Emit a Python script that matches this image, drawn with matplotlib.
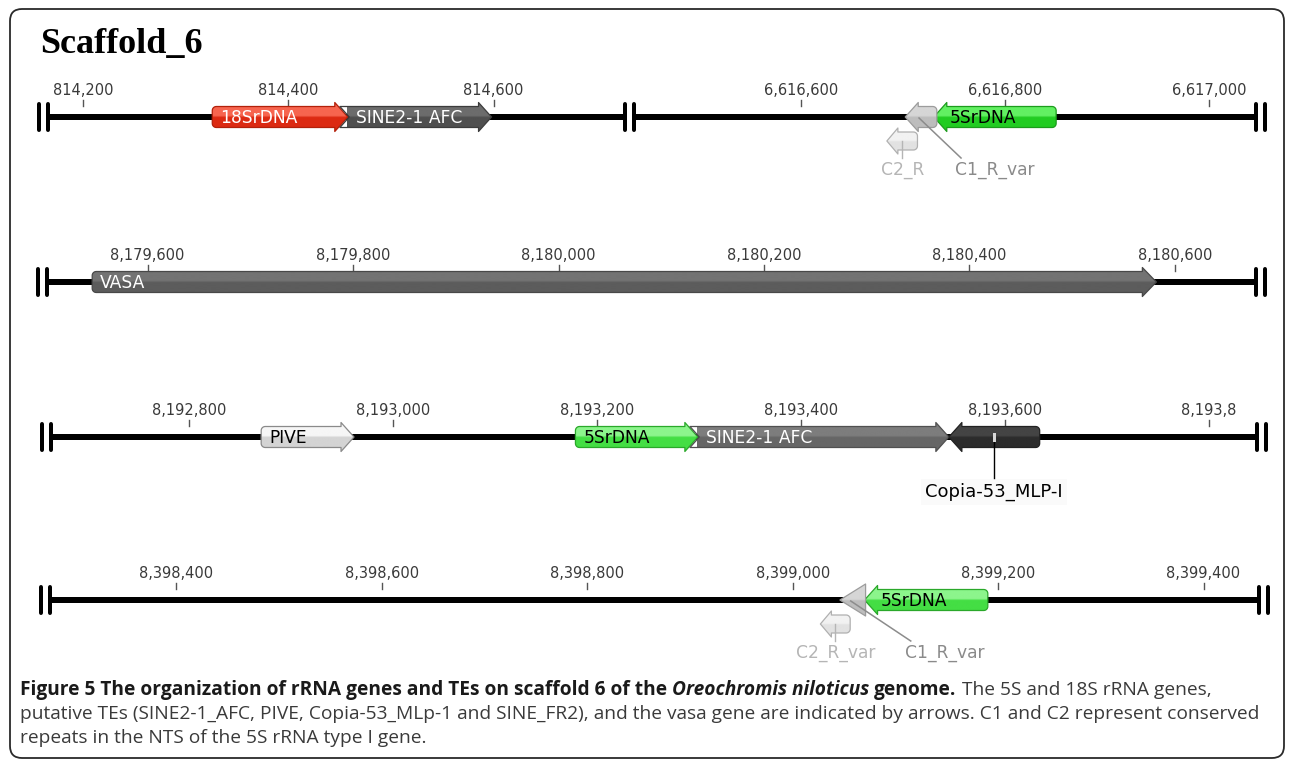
import matplotlib
matplotlib.use("Agg")
import numpy as np
import matplotlib.pyplot as plt
from matplotlib import font_manager
from matplotlib.patches import Polygon, FancyBboxPatch
from matplotlib.colors import LinearSegmentedColormap

# ---------------------------------------------------------------- data
# genomic window shown on each track (bp)
track_starts = [814166, 6616436, 8179502, 8192665, 8398277]
track_ends = [814728, 6617046, 8180679, 8193847, 8399454]

tick_values = [
    [814200, 814400, 814600],
    [6616600, 6616800, 6617000],
    [8179600, 8179800, 8180000, 8180200, 8180400, 8180600],
    [8192800, 8193000, 8193200, 8193400, 8193600, 8193800],
    [8398400, 8398600, 8398800, 8399000, 8399200, 8399400],
]
tick_labels = [
    ["814,200", "814,400", "814,600"],
    ["6,616,600", "6,616,800", "6,617,000"],
    ["8,179,600", "8,179,800", "8,180,000", "8,180,200", "8,180,400", "8,180,600"],
    ["8,192,800", "8,193,000", "8,193,200", "8,193,400", "8,193,600", "8,193,8"],
    ["8,398,400", "8,398,600", "8,398,800", "8,399,000", "8,399,200", "8,399,400"],
]

feature_names = ["18SrDNA", "SINE2-1 AFC", "5SrDNA", "C1_R_var", "C2_R",
                 "VASA", "PIVE", "5SrDNA", "SINE2-1 AFC", "Copia-53_MLP-I",
                 "5SrDNA", "C1_R_var", "C2_R_var"]
feature_track = [0, 0, 1, 1, 1, 2, 3, 3, 3, 3, 4, 4, 4]
feature_start = [814326, 814458, 6616730, 6616702, 6616684,
                 8179546, 8192871, 8193179, 8193299, 8193545,
                 8399070, 8399046, 8399027]
feature_end = [814458, 814598, 6616850, 6616733, 6616714,
               8180582, 8192962, 8193299, 8193545, 8193634,
               8399190, 8399071, 8399056]
feature_strand = [1, 1, -1, -1, -1, 1, 1, 1, 1, -1, -1, -1, -1]

# ---------------------------------------------------------------- layout / style
W, H, DPI = 1290, 763, 100
PT = 72.0 / DPI                       # points per pixel

track_px = [(48, 625), (634, 1256), (47, 1256), (51, 1257), (50, 1259)]
track_y = [117, 117, 282, 437, 600]
# outer break bar drawn at (left, right) end; the first two tracks share one pair
track_outer_bar = [(True, False), (False, True), (True, True), (True, True), (True, True)]

palette = {
    "red":   dict(top="#f7654f", bot="#dc2a12", edge="#b3200a", text="white"),
    "dgray": dict(top="#6c6c6c", bot="#4f4f4f", edge="#3c3c3c", text="white"),
    "green": dict(top="#62f062", bot="#22cc22", edge="#1c9c1c", text="black"),
    "lgreen": dict(top="#8cf58c", bot="#44de44", edge="#2aa82a", text="black"),
    "vasa":  dict(top="#737373", bot="#5c5c5c", edge="#484848", text="white"),
    "pive":  dict(top="#f6f6f6", bot="#d4d4d4", edge="#8a8a8a", text="black"),
    "sine":  dict(top="#7d7d7d", bot="#666666", edge="#505050", text="white"),
    "copia": dict(top="#444444", bot="#2c2c2c", edge="#222222", text="white"),
    "c1":    dict(top="#d6d6d6", bot="#bdbdbd", edge="#9c9c9c", text="#8a8a8a"),
    "c2":    dict(top="#f2f2f2", bot="#e2e2e2", edge="#b0b0b0", text="#b5b5b5"),
}
feature_palette = ["red", "dgray", "green", "c1", "c2", "vasa", "pive",
                   "lgreen", "sine", "copia", "lgreen", "c1", "c2"]
# how each feature is labelled: inside the arrow, callout to the right, or below
feature_label_mode = ["in", "in", "in", "c1", "c2", "in", "in", "in", "in",
                      "below", "in", "c1", "c2"]
feature_tail = ["round", "notch", "round", "round", "round", "round", "round",
                "round", "notch", "round", "round", "round", "round"]
feature_row = [0, 0, 0, 0, 24, 0, 0, 0, 0, 0, 0, 0, 24]      # px below the line
feature_head = [13, 13, 13, 13, 11, 14, 13, 13, 13, 13, 13, 26, 11]
feature_hh = [14.5, 14.5, 14.5, 14.5, 13, 14.5, 14.5, 14.5, 14.5, 14.5, 14.5, 16, 13]
feature_hb = [10.5, 10.5, 10.5, 10.5, 9, 10.5, 10.5, 10.5, 10.5, 10.5, 10.5, 10.5, 9]
callout_dx = {3: 74, 11: 92}


def pick_font(cands):
    names = {f.name for f in font_manager.fontManager.ttflist}
    for c in cands:
        if c in names:
            return c
    return "DejaVu Sans"


CAP_FONT = pick_font(["Open Sans", "Noto Sans", "DejaVu Sans"])
SERIF = pick_font(["Liberation Serif", "DejaVu Serif"])

fig = plt.figure(figsize=(W / DPI, H / DPI), dpi=DPI)
fig.patch.set_facecolor("white")

# full-figure overlay in pixel units for frame, title and caption
bg = fig.add_axes([0, 0, 1, 1])
bg.set_xlim(0, W)
bg.set_ylim(H, 0)
bg.axis("off")
bg.add_patch(FancyBboxPatch((10, 9), 1274, 749,
                            boxstyle="round,pad=0,rounding_size=12",
                            fc="none", ec="#2a2a2a", lw=1.3))
bg.text(40, 53, "Scaffold_6", family=SERIF, weight="bold", fontsize=26,
        ha="left", va="baseline", color="black")


def arrow_points(xa, xb, strand, yc, hb, hh, L, tail, r=4.0, gap=1.5):
    """Outline of a feature arrow in local pixel coordinates."""
    length = xb - xa
    if strand == 1:
        tip, tailx, d = xb, xa, 1
    else:
        tip, tailx, d = xa, xb, -1
    if L >= length:
        neck = tailx
        return [(tip, yc), (neck, yc + hh), (neck, yc - hh)]
    neck = tip - d * L
    pts = [(tip, yc), (neck, yc + hh), (neck, yc + hb)]
    if tail == "notch":
        depth = L * hb / hh
        pts += [(tailx - d * depth + d * gap, yc + hb),
                (tailx + d * gap, yc),
                (tailx - d * depth + d * gap, yc - hb)]
    else:
        cb = (tailx + d * r, yc + hb - r)
        for phi in np.linspace(0, np.pi / 2, 7):
            pts.append((cb[0] - d * r * np.sin(phi), cb[1] + r * np.cos(phi)))
        ct = (tailx + d * r, yc - hb + r)
        for phi in np.linspace(0, np.pi / 2, 7):
            pts.append((ct[0] - d * r * np.cos(phi), ct[1] - r * np.sin(phi)))
    pts += [(neck, yc - hb), (neck, yc - hh)]
    return pts


HALF = 70
axes = []
for t in range(len(track_starts)):
    x0, x1 = track_px[t]
    yc = track_y[t]
    ax = fig.add_axes([x0 / W, 1 - (yc + HALF) / H, (x1 - x0) / W, 2 * HALF / H])
    ax.set_xlim(track_starts[t], track_ends[t])
    ax.set_ylim(HALF, -HALF)
    ax.axis("off")
    axes.append(ax)
    ppb = (x1 - x0) / (track_ends[t] - track_starts[t])
    s, e = track_starts[t], track_ends[t]

    # backbone
    ax.plot([s, e], [0, 0], color="black", lw=6 * PT, solid_capstyle="butt", zorder=2)
    # break bars at both ends
    for end, sign, outer in ((s, -1, track_outer_bar[t][0]), (e, 1, track_outer_bar[t][1])):
        offs = (0, 9) if outer else (0,)
        for off in offs:
            xb = end + sign * off / ppb
            ax.plot([xb, xb], [-13, 13], color="black", lw=4 * PT,
                    solid_capstyle="round", clip_on=False, zorder=2)
    # ruler ticks
    for v, lab in zip(tick_values[t], tick_labels[t]):
        ax.plot([v, v], [-17, -11], color="#555555", lw=1.0, zorder=1, clip_on=False)
        ax.text(v, -19, lab, ha="center", va="bottom", fontsize=10.5,
                color="#3a3a3a", clip_on=False)

# features
for i, name in enumerate(feature_names):
    t = feature_track[i]
    ax = axes[t]
    x0, x1 = track_px[t]
    s0 = track_starts[t]
    ppb = (x1 - x0) / (track_ends[t] - track_starts[t])
    xa = (feature_start[i] - s0) * ppb
    xb = (feature_end[i] - s0) * ppb
    yc = feature_row[i]
    st = palette[feature_palette[i]]
    pts = arrow_points(xa, xb, feature_strand[i], yc, feature_hb[i], feature_hh[i],
                       feature_head[i], feature_tail[i])
    pts_bp = [(s0 + px / ppb, py) for px, py in pts]
    z = 3 + i * 0.1
    poly = Polygon(pts_bp, closed=True, fc="none", ec="none", zorder=z)
    ax.add_patch(poly)
    hh = feature_hh[i]
    cmap = LinearSegmentedColormap.from_list(
        "g%d" % i, [(0, st["top"]), (0.47, st["top"]), (0.53, st["bot"]), (1, st["bot"])])
    grad = np.linspace(0, 1, 128).reshape(-1, 1)
    im = ax.imshow(grad, cmap=cmap, aspect="auto", interpolation="bilinear",
                   extent=(s0 + min(xa, xb) / ppb - 1, s0 + max(xa, xb) / ppb + 1,
                           yc + hh, yc - hh), zorder=z)
    im.set_clip_path(poly)
    ax.add_patch(Polygon(pts_bp, closed=True, fc="none", ec=st["edge"], lw=0.9,
                         zorder=z + 0.01, joinstyle="round"))

    mode = feature_label_mode[i]
    mid = (feature_start[i] + feature_end[i]) / 2
    if mode == "in":
        if feature_strand[i] == 1:
            tx = feature_start[i] + 8 / ppb
        else:
            tx = feature_start[i] + (feature_head[i] + 3) / ppb
        ax.text(tx, 0.8, name, ha="left", va="center", fontsize=12.3,
                color=st["text"], zorder=z + 0.02)
    elif mode == "c1":
        dx = callout_dx[i]
        lx = mid + dx / ppb
        ax.plot([mid - 2 / ppb, lx - 34 / ppb], [1, 41], color="#8c8c8c", lw=1.1,
                zorder=z + 0.03, clip_on=False)
        ax.text(lx, 53, name, ha="center", va="center", fontsize=12.3,
                color=st["text"], zorder=z + 0.02, clip_on=False)
    elif mode == "c2":
        ax.plot([mid, mid], [yc, 41], color="#b5b5b5", lw=1.0, zorder=z + 0.03,
                clip_on=False)
        ax.text(mid, 53, name, ha="center", va="center", fontsize=12.3,
                color=st["text"], zorder=z + 0.02, clip_on=False)
    elif mode == "below":
        ax.plot([mid, mid], [3, 41], color="black", lw=1.0, zorder=z + 0.03,
                clip_on=False)
        ax.plot([mid, mid], [-3, 3], color="#d8d8d8", lw=3 * PT, zorder=z + 0.04)
        ax.text(mid, 55, name, ha="center", va="center", fontsize=13,
                color="black", zorder=z + 0.02, clip_on=False,
                bbox=dict(fc="#fafafa", ec="none", pad=3))

# ---------------------------------------------------------------- caption
renderer = fig.canvas.get_renderer()


def width_of(txt, **kw):
    tt = bg.text(0, 0, txt, **kw)
    w = tt.get_window_extent(renderer).width
    tt.remove()
    return w


line2 = ("putative TEs (SINE2-1_AFC, PIVE, Copia-53_MLp-1 and SINE_FR2), and the vasa "
         "gene are indicated by arrows. C1 and C2 represent conserved")
base = 12.0
w2 = width_of(line2, family=CAP_FONT, fontsize=base)
cap_size = base * 1232.0 / w2
space = (width_of("a a", family=CAP_FONT, fontsize=cap_size)
         - width_of("aa", family=CAP_FONT, fontsize=cap_size))

pieces = [
    ("Figure 5 The organization of rRNA genes and TEs on scaffold 6 of the",
     dict(weight="bold", color="#1a1a1a")),
    ("Oreochromis niloticus", dict(weight="bold", style="italic", color="#1a1a1a")),
    ("genome.", dict(weight="bold", color="#1a1a1a")),
    ("The 5S and 18S rRNA genes,", dict(color="#3a3a3a")),
]
x = 20
for txt, kw in pieces:
    tt = bg.text(x, 695, txt, family=CAP_FONT, fontsize=cap_size, ha="left",
                 va="baseline", **kw)
    x += tt.get_window_extent(renderer).width + space
bg.text(20, 719, line2, family=CAP_FONT, fontsize=cap_size, ha="left",
        va="baseline", color="#3a3a3a")
bg.text(20, 743, "repeats in the NTS of the 5S rRNA type I gene.", family=CAP_FONT,
        fontsize=cap_size, ha="left", va="baseline", color="#3a3a3a")

fig.savefig("out.png", dpi=DPI, facecolor="white")
